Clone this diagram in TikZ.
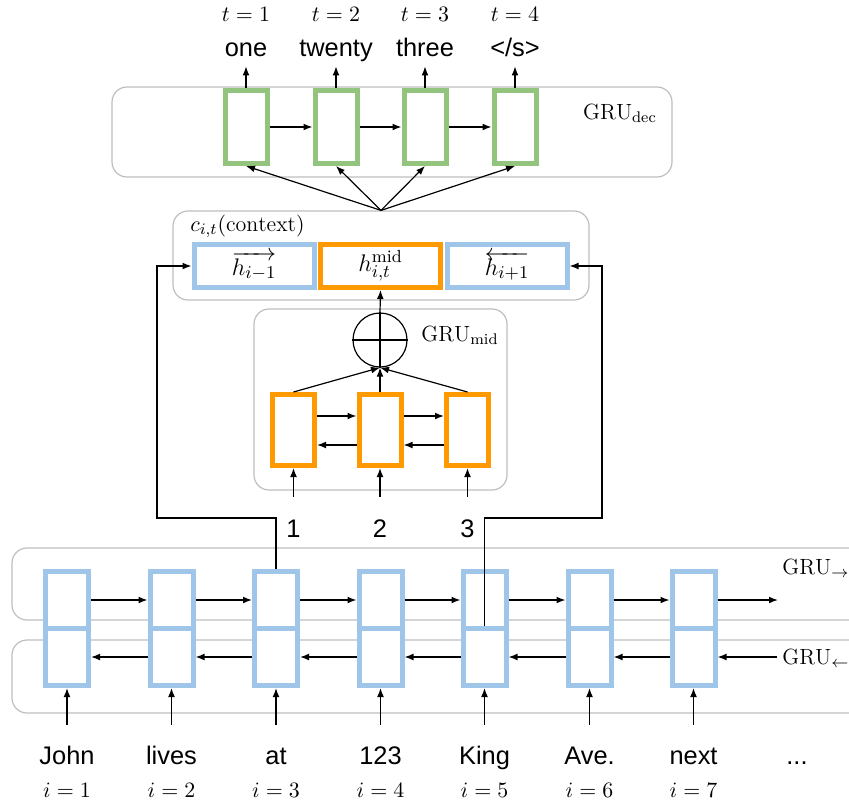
\documentclass[tikz,border=0pt]{standalone}
\usepackage{fontspec}
\newfontfamily\arialfont{Liberation Sans}
\usetikzlibrary{arrows.meta}
\definecolor{gblue}{RGB}{159,197,232}
\definecolor{gorange}{RGB}{255,153,0}
\definecolor{ggreen}{RGB}{147,196,125}
\definecolor{ggray}{RGB}{190,190,190}
\tikzset{
  grp/.style={draw=ggray, line width=0.6pt, rounded corners=7.5pt, inner sep=0pt},
  deccell/.style={draw=ggreen, line width=2.5pt, fill=white, inner sep=0pt, minimum width=21pt, minimum height=36.5pt},
  midcell/.style={draw=gorange, line width=2.5pt, fill=white, inner sep=0pt, minimum width=21pt, minimum height=35.5pt},
  enccell/.style={draw=gblue, line width=2.5pt, fill=white, inner sep=0pt, minimum width=21.5pt, minimum height=28.5pt},
  ctxcell/.style={draw=#1, line width=2.5pt, fill=white, inner sep=0pt, minimum width=60pt, minimum height=21.5pt, font=\fontsize{12.5}{14}\selectfont},
  arr/.style={-{Latex[length=4.5pt,width=3.4pt]}, line width=0.6pt},
  word/.style={font=\arialfont\fontsize{12.7}{15}\selectfont, inner sep=0pt, anchor=base, text height=9.5pt, text depth=4.5pt},
  lbl/.style={font=\fontsize{11}{13}\selectfont, inner sep=0pt}
}
\begin{document}
\begin{tikzpicture}[x=0.5pt,y=0.5pt,yscale=-1,xscale=1]
\useasboundingbox (0,0) rectangle (849,808);
\clip (0,0) rectangle (849,808);

% group boxes
\node[grp, minimum width=280pt, minimum height=45pt] (dec) at (392,132) {};
\node[grp, minimum width=208pt, minimum height=44.5pt] (ctx) at (381,255.5) {};
\node[grp, minimum width=126.5pt, minimum height=90.5pt] (mid) at (380.5,399.5) {};
\node[grp, minimum width=434pt, minimum height=36pt] (fwd) at (446,584) {};
\node[grp, minimum width=434pt, minimum height=36.5pt] (bwd) at (446,676.5) {};

% group labels
\node[lbl] at (620,113) {$\mathrm{GRU}_{\mathrm{dec}}$};
\node[lbl, anchor=west] at (190,226) {$c_{i,t}(\mathrm{context})$};
\node[lbl] at (460,335) {$\mathrm{GRU}_{\mathrm{mid}}$};
\node[lbl, anchor=west] at (782,568) {$\mathrm{GRU}_{\rightarrow}$};
\node[lbl, anchor=west] at (782,658) {$\mathrm{GRU}_{\leftarrow}$};

% decoder
\node[deccell] (d1) at (246,127) {};
\node[deccell] (d2) at (336,127) {};
\node[deccell] (d3) at (425,127) {};
\node[deccell] (d4) at (515,127) {};
\draw[arr] (d1) -- (d2);
\draw[arr] (d2) -- (d3);
\draw[arr] (d3) -- (d4);

% outputs
\node[word] (o1) at (246,57) {one};
\node[word] (o2) at (336,57) {twenty};
\node[word] (o3) at (425,57) {three};
\node[word] (o4) at (515,57) {</s>};
\draw[arr] (d1.north) -- (o1.south);
\draw[arr] (d2.north) -- (o2.south);
\draw[arr] (d3.north) -- (o3.south);
\draw[arr] (d4.north) -- (o4.south);
\node[lbl] at (246,14) {$t=1$};
\node[lbl] at (336,14) {$t=2$};
\node[lbl] at (425,14) {$t=3$};
\node[lbl] at (515,14) {$t=4$};

% context
\node[ctxcell=gblue] (hl) at (254,266) {$\overrightarrow{h_{i-1}}$};
\node[ctxcell=gorange] (hm) at (380.5,266) {$h^{\mathrm{mid}}_{i,t}$};
\node[ctxcell=gblue] (hr) at (507,266) {$\overleftarrow{h_{i+1}}$};
\draw[arr] (ctx.north) -- (d1.south);
\draw[arr] (ctx.north) -- (d2.south);
\draw[arr] (ctx.north) -- (d3.south);
\draw[arr] (ctx.north) -- (d4.south);

% mid GRU
\node[draw, circle, line width=0.6pt, inner sep=0pt, minimum size=27pt] (sum) at (380,340) {};
\draw[line width=0.6pt] (sum.west) -- (sum.east);
\draw[line width=0.6pt] (sum.south) -- (sum.north);
\draw[arr] (sum.north) -- (hm.south);
\node[midcell] (m1) at (293.5,430) {};
\node[midcell] (m2) at (380,430) {};
\node[midcell] (m3) at (467.5,430) {};
\draw[arr] ([yshift=-7pt]m1.east) -- ([yshift=-7pt]m2.west);
\draw[arr] ([yshift=-7pt]m2.east) -- ([yshift=-7pt]m3.west);
\draw[arr] ([yshift=7.5pt]m2.west) -- ([yshift=7.5pt]m1.east);
\draw[arr] ([yshift=7.5pt]m3.west) -- ([yshift=7.5pt]m2.east);
\draw[arr] (m1.north) -- (sum.south);
\draw[arr] (m2.north) -- (sum.south);
\draw[arr] (m3.north) -- (sum.south);
\node[word] (n1) at (293.5,537) {1};
\node[word] (n2) at (380,537) {2};
\node[word] (n3) at (467.5,537) {3};
\draw[arr, shorten <=10.5pt] (n1.north) -- (m1.south);
\draw[arr, shorten <=10.5pt] (n2.north) -- (m2.south);
\draw[arr, shorten <=10.5pt] (n3.north) -- (m3.south);

% encoder cells
\node[enccell] (f1) at (67,600) {};
\node[enccell] (f2) at (171.5,600) {};
\node[enccell] (f3) at (276,600) {};
\node[enccell] (f4) at (380.5,600) {};
\node[enccell] (f5) at (484.5,600) {};
\node[enccell] (f6) at (589.5,600) {};
\node[enccell] (f7) at (693.5,600) {};
\node[enccell] (b1) at (67,657) {};
\node[enccell] (b2) at (171.5,657) {};
\node[enccell] (b3) at (276,657) {};
\node[enccell] (b4) at (380.5,657) {};
\node[enccell] (b5) at (484.5,657) {};
\node[enccell] (b6) at (589.5,657) {};
\node[enccell] (b7) at (693.5,657) {};
\coordinate (fend) at (778,600);
\coordinate (bstart) at (777,657);
\draw[arr] (f1) -- (f2);
\draw[arr] (f2) -- (f3);
\draw[arr] (f3) -- (f4);
\draw[arr] (f4) -- (f5);
\draw[arr] (f5) -- (f6);
\draw[arr] (f6) -- (f7);
\draw[arr] (f7) -- (fend);
\draw[arr] (bstart) -- (b7);
\draw[arr] (b7) -- (b6);
\draw[arr] (b6) -- (b5);
\draw[arr] (b5) -- (b4);
\draw[arr] (b4) -- (b3);
\draw[arr] (b3) -- (b2);
\draw[arr] (b2) -- (b1);

% links into context
\coordinate (lk) at (157,518);
\coordinate (rk) at (602,518);
\draw[arr] (f3.north) |- (lk) |- (hl.west);
\draw[arr] (b5.north) |- (rk) |- (hr.east);

% inputs
\node[word] (w1) at (67,764) {John};
\node[word] (w2) at (171.5,764) {lives};
\node[word] (w3) at (276,764) {at};
\node[word] (w4) at (380.5,764) {123};
\node[word] (w5) at (484.5,764) {King};
\node[word] (w6) at (589.5,764) {Ave.};
\node[word] (w7) at (693.5,764) {next};
\node[word] (w8) at (797,764) {...};
\draw[arr, shorten <=10pt] (w1.north) -- (b1.south);
\draw[arr, shorten <=10pt] (w2.north) -- (b2.south);
\draw[arr, shorten <=10pt] (w3.north) -- (b3.south);
\draw[arr, shorten <=10pt] (w4.north) -- (b4.south);
\draw[arr, shorten <=10pt] (w5.north) -- (b5.south);
\draw[arr, shorten <=10pt] (w6.north) -- (b6.south);
\draw[arr, shorten <=10pt] (w7.north) -- (b7.south);
\node[lbl] at (67,790) {$i=1$};
\node[lbl] at (171.5,790) {$i=2$};
\node[lbl] at (276,790) {$i=3$};
\node[lbl] at (380.5,790) {$i=4$};
\node[lbl] at (484.5,790) {$i=5$};
\node[lbl] at (589.5,790) {$i=6$};
\node[lbl] at (693.5,790) {$i=7$};
\end{tikzpicture}
\end{document}
